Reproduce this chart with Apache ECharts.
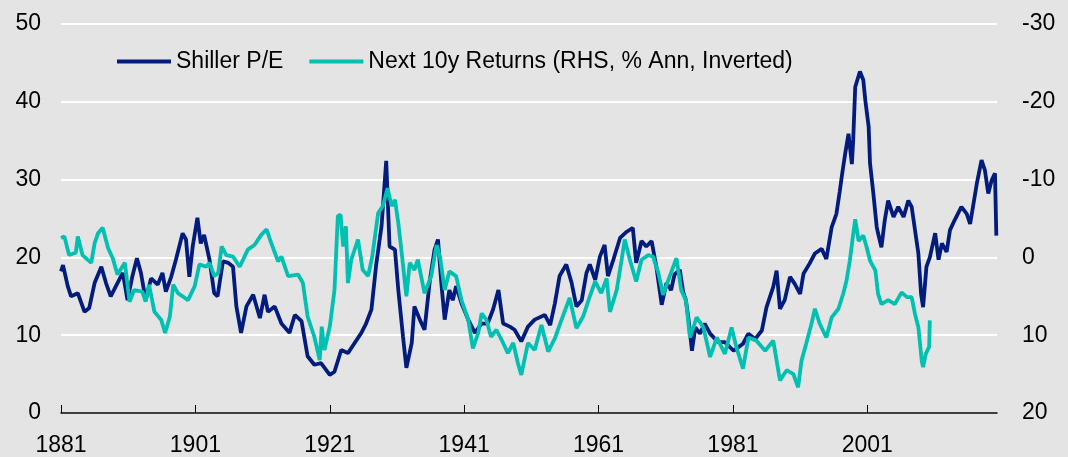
<!DOCTYPE html>
<html lang="en">
<head>
    <meta charset="UTF-8">
    <title>Shiller P/E vs next 10y returns</title>
    <script type="text/javascript" src="https://cdn.jsdelivr.net/npm/echarts@6/dist/echarts.min.js"></script>
    <style>
        body { margin: 0; background: #e4e4e4; }
    </style>
</head>
<body>

<div id="main" style="width: 1068px;height:457px;"></div>

<script type="text/javascript">
    // x axis tick labels (years)
    var xTicks = [1881, 1901, 1921, 1941, 1961, 1981, 2001];

    // Shiller P/E, left axis
    var peYears = [1881.0, 1881.3, 1882.0, 1882.5, 1883.5, 1884.5, 1885.2, 1886.0, 1887.0, 1887.7, 1888.4, 1889.4, 1890.2, 1890.9,
        1891.6, 1892.3, 1892.9, 1893.6, 1894.4, 1895.4, 1896.1, 1896.6, 1897.4, 1898.1, 1899.1, 1899.6, 1900.1, 1900.6,
        1901.3, 1901.8, 1902.3, 1903.1, 1903.8, 1904.3, 1905.1, 1905.9, 1906.6, 1907.1, 1907.8, 1908.6, 1909.6, 1910.6,
        1911.3, 1911.8, 1912.8, 1913.8, 1915.0, 1915.8, 1916.8, 1917.7, 1918.7, 1919.7, 1921.0, 1921.7, 1922.7, 1923.7,
        1924.7, 1925.7, 1926.4, 1927.2, 1927.9, 1928.7, 1929.4, 1929.9, 1930.7, 1931.2, 1931.9, 1932.4, 1933.2, 1933.6,
        1934.4, 1935.1, 1935.9, 1936.6, 1937.1, 1937.6, 1938.1, 1938.8, 1939.3, 1939.8, 1940.6, 1941.6, 1942.6, 1943.6,
        1944.5, 1945.3, 1946.1, 1946.8, 1947.8, 1948.5, 1949.5, 1950.5, 1951.5, 1953.0, 1953.8, 1954.5, 1955.2, 1956.2,
        1957.0, 1957.7, 1958.5, 1959.2, 1959.7, 1960.5, 1961.2, 1961.9, 1962.4, 1963.2, 1964.2, 1965.2, 1966.1, 1966.6,
        1967.4, 1968.1, 1968.9, 1969.6, 1970.4, 1971.1, 1971.8, 1972.3, 1973.1, 1973.6, 1974.0, 1974.4, 1974.9, 1975.4,
        1976.1, 1976.8, 1977.6, 1978.8, 1979.8, 1981.1, 1982.5, 1983.3, 1984.3, 1985.3, 1986.0, 1987.0, 1987.5, 1988.0,
        1988.7, 1989.5, 1990.2, 1991.0, 1991.5, 1992.4, 1993.2, 1994.2, 1994.9, 1995.7, 1996.4, 1996.9, 1997.3, 1997.7,
        1998.2, 1998.7, 1998.9, 1999.2, 1999.9, 2000.4, 2000.7, 2001.2, 2001.4, 2001.9, 2002.4, 2002.6, 2003.1, 2003.6,
        2004.1, 2004.9, 2005.6, 2006.4, 2007.1, 2007.6, 2008.1, 2008.6, 2009.0, 2009.3, 2009.8, 2010.3, 2011.1, 2011.6,
        2012.1, 2012.8, 2013.3, 2014.0, 2015.0, 2015.8, 2016.3, 2016.8, 2017.3, 2018.0, 2018.5, 2019.0, 2019.5, 2020.0,
        2020.2];
    var peValues = [18.2, 19.0, 16.3, 15.0, 15.4, 13.0, 13.5, 16.7, 18.8, 16.7, 15.0, 16.7, 18.0, 14.5,
        17.5, 19.9, 18.0, 14.5, 17.3, 16.5, 18.0, 15.6, 17.5, 19.7, 23.1, 22.3, 17.5, 21.4,
        25.1, 21.8, 22.9, 19.7, 15.4, 15.0, 19.5, 19.3, 18.8, 13.7, 10.3, 13.7, 15.2, 12.2,
        15.2, 13.0, 13.7, 11.5, 10.3, 12.6, 11.8, 7.3, 6.2, 6.4, 4.9, 5.3, 8.1, 7.7,
        9.0, 10.3, 11.5, 13.3, 19.0, 24.0, 32.4, 21.4, 21.0, 15.8, 9.8, 5.8, 9.0, 13.7,
        12.0, 10.7, 17.1, 21.0, 22.3, 16.7, 12.0, 15.8, 14.5, 16.3, 14.1, 12.0, 10.3, 11.5,
        11.5, 13.3, 15.8, 11.5, 11.1, 10.7, 9.2, 11.1, 12.0, 12.6, 11.3, 14.1, 17.6, 19.1,
        16.7, 13.7, 14.5, 18.0, 19.1, 17.1, 20.1, 21.6, 17.6, 19.7, 22.5, 23.3, 23.8, 19.3,
        22.1, 21.4, 22.1, 18.8, 13.9, 16.7, 15.8, 17.8, 18.4, 15.5, 14.5, 12.0, 8.0, 11.0,
        10.2, 11.5, 10.2, 9.1, 9.1, 8.0, 8.9, 10.2, 9.5, 10.6, 13.6, 16.2, 18.3, 13.4,
        14.5, 17.5, 16.6, 15.3, 17.9, 19.2, 20.5, 21.1, 19.8, 23.9, 25.6, 28.5, 31.0, 33.3,
        35.9, 32.0, 35.1, 41.9, 43.9, 42.8, 40.2, 36.8, 32.1, 28.2, 23.9, 23.1, 21.3, 24.8,
        27.3, 25.2, 26.5, 25.2, 27.3, 26.5, 23.5, 20.5, 15.3, 13.6, 18.8, 20.0, 23.1, 19.7,
        21.8, 20.7, 23.5, 24.8, 26.5, 25.6, 24.3, 26.9, 29.5, 32.5, 31.2, 28.2, 29.9, 30.8,
        22.8];

    // next 10y returns, % annualised, right axis (inverted)
    var retYears = [1881.0, 1881.5, 1882.2, 1883.2, 1883.5, 1884.2, 1885.5, 1886.0, 1886.5, 1887.2, 1888.0, 1888.7, 1889.4, 1890.5,
        1891.2, 1891.9, 1893.1, 1893.6, 1894.1, 1894.9, 1895.9, 1896.5, 1897.2, 1897.7, 1898.4, 1899.1, 1899.9, 1900.9,
        1901.6, 1902.6, 1903.1, 1903.8, 1904.4, 1904.9, 1905.6, 1906.6, 1907.6, 1908.8, 1909.8, 1910.8, 1911.6, 1912.1,
        1913.3, 1913.8, 1914.8, 1916.3, 1917.0, 1917.7, 1918.7, 1919.5, 1919.8, 1920.2, 1921.0, 1921.7, 1922.2, 1922.6,
        1923.0, 1923.4, 1923.7, 1924.2, 1925.2, 1925.9, 1926.7, 1927.3, 1928.2, 1928.9, 1929.6, 1930.2, 1930.7, 1931.2,
        1931.7, 1932.4, 1932.9, 1933.6, 1934.1, 1935.1, 1936.1, 1936.9, 1937.4, 1938.1, 1938.8, 1939.8, 1940.6, 1941.6,
        1942.3, 1943.1, 1943.6, 1944.3, 1945.0, 1945.8, 1946.8, 1947.5, 1948.3, 1949.0, 1949.5, 1950.5, 1951.5, 1952.5,
        1953.5, 1954.5, 1955.5, 1956.7, 1957.7, 1958.7, 1959.7, 1960.5, 1961.4, 1962.2, 1962.7, 1963.7, 1964.4, 1964.9,
        1965.6, 1966.6, 1967.4, 1968.4, 1969.1, 1969.9, 1970.6, 1971.6, 1972.6, 1973.3, 1974.0, 1974.6, 1975.6, 1976.6,
        1977.6, 1978.6, 1979.8, 1980.8, 1981.5, 1982.5, 1983.3, 1984.5, 1985.8, 1987.0, 1988.0, 1989.0, 1990.0, 1990.7,
        1991.2, 1991.9, 1992.7, 1993.2, 1993.9, 1994.9, 1995.7, 1996.7, 1997.4, 1997.9, 1998.4, 1998.9, 1999.2, 1999.7,
        2000.4, 2000.9, 2001.4, 2002.2, 2002.6, 2003.1, 2004.1, 2005.1, 2006.1, 2006.9, 2007.6, 2008.1, 2008.6, 2009.1,
        2009.3, 2009.7, 2010.2, 2010.3];
    var retValues = [-2.5, -2.7, -0.3, -0.6, -2.7, -0.3, 0.7, -1.8, -3.1, -3.8, -1.2, 0.1, 2.2, 0.7,
        5.7, 4.2, 4.4, 5.7, 3.5, 7.0, 8.0, 9.7, 7.6, 3.5, 4.6, 5.0, 5.5, 3.7,
        0.9, 1.2, 0.7, 2.4, 2.0, -1.4, -0.3, -0.1, 1.2, -1.0, -1.6, -2.9, -3.6, -2.3,
        0.5, -0.1, 2.4, 2.2, 3.3, 7.6, 10.2, 13.2, 8.9, 11.9, 8.9, 4.2, -5.3, -5.5,
        -1.4, -4.0, 3.3, 0.3, -2.3, 1.6, 2.4, 0.0, -5.7, -6.6, -8.9, -6.6, -7.4, -4.4,
        -0.6, 5.0, 0.7, 1.6, 0.3, 4.6, 2.4, -1.6, -0.1, 4.2, 1.8, 2.4, 5.5, 8.0,
        11.7, 9.7, 7.2, 8.0, 10.2, 9.3, 11.0, 12.3, 11.0, 13.6, 15.1, 11.0, 11.9, 8.7,
        12.1, 10.4, 8.0, 5.2, 9.1, 7.6, 5.0, 3.1, 4.6, 2.7, 7.0, 4.2, 0.5, -2.3,
        0.1, 3.1, 0.3, -0.3, -0.1, 2.0, 4.8, 2.4, 0.1, 4.2, 5.5, 10.3, 7.7, 9.0,
        12.8, 10.3, 12.4, 9.0, 11.5, 14.3, 10.3, 10.7, 12.0, 10.7, 15.8, 14.5, 15.0, 16.7,
        13.3, 11.1, 8.5, 6.6, 8.5, 10.3, 7.7, 6.6, 4.7, 3.0, 0.4, -3.0, -4.9, -2.1,
        -2.8, -1.3, 0.4, 1.7, 4.7, 6.0, 5.5, 6.0, 4.5, 5.1, 5.1, 7.3, 9.0, 13.3,
        14.1, 12.4, 11.5, 8.1];

    function pairs(xs, ys) {
        var out = [];
        for (var i = 0; i < xs.length; i++) {
            out.push([xs[i], ys[i]]);
        }
        return out;
    }

    var font = "'Liberation Sans', Arial, sans-serif";
    var myChart = echarts.init(document.getElementById('main'));

    myChart.setOption({
        backgroundColor: '#e4e4e4',
        animation: false,
        textStyle: {fontFamily: font, color: '#000'},
        legend: {
            left: 112,
            top: 45,
            itemWidth: 54,
            itemHeight: 4,
            itemGap: 26,
            icon: 'rect',
            textStyle: {fontSize: 23, fontFamily: font, color: '#000'},
            data: ['Shiller P/E', 'Next 10y Returns (RHS, % Ann, Inverted)']
        },
        grid: {left: 61, right: 71, top: 24, bottom: 43, containLabel: false},
        xAxis: {
            type: 'value',
            min: 1881,
            max: 2020.3,
            splitLine: {show: false},
            axisLine: {lineStyle: {color: '#000', width: 1.5}},
            axisTick: {show: true, inside: true, length: 8, lineStyle: {color: '#000'}, customValues: xTicks},
            axisLabel: {fontSize: 23, color: '#000', margin: 21, customValues: xTicks,
                formatter: function (v) { return String(v); }}
        },
        yAxis: [{
            type: 'value',
            min: 0,
            max: 50,
            interval: 10,
            axisLine: {show: false},
            axisTick: {show: false},
            axisLabel: {fontSize: 23, color: '#000', margin: 20},
            splitLine: {lineStyle: {color: '#ffffff', width: 2}}
        }, {
            type: 'value',
            min: -30,
            max: 20,
            interval: 10,
            inverse: true,
            axisLine: {show: false},
            axisTick: {show: false},
            axisLabel: {fontSize: 23, color: '#000', margin: 25},
            splitLine: {show: false}
        }],
        series: [{
            name: 'Shiller P/E',
            type: 'line',
            yAxisIndex: 0,
            showSymbol: false,
            color: '#021c7e',
            lineStyle: {width: 3.8, color: '#021c7e'},
            data: pairs(peYears, peValues)
        }, {
            name: 'Next 10y Returns (RHS, % Ann, Inverted)',
            type: 'line',
            yAxisIndex: 1,
            showSymbol: false,
            color: '#00c0b2',
            lineStyle: {width: 3.8, color: '#00c0b2'},
            data: pairs(retYears, retValues)
        }]
    });
</script>

</body>
</html>
